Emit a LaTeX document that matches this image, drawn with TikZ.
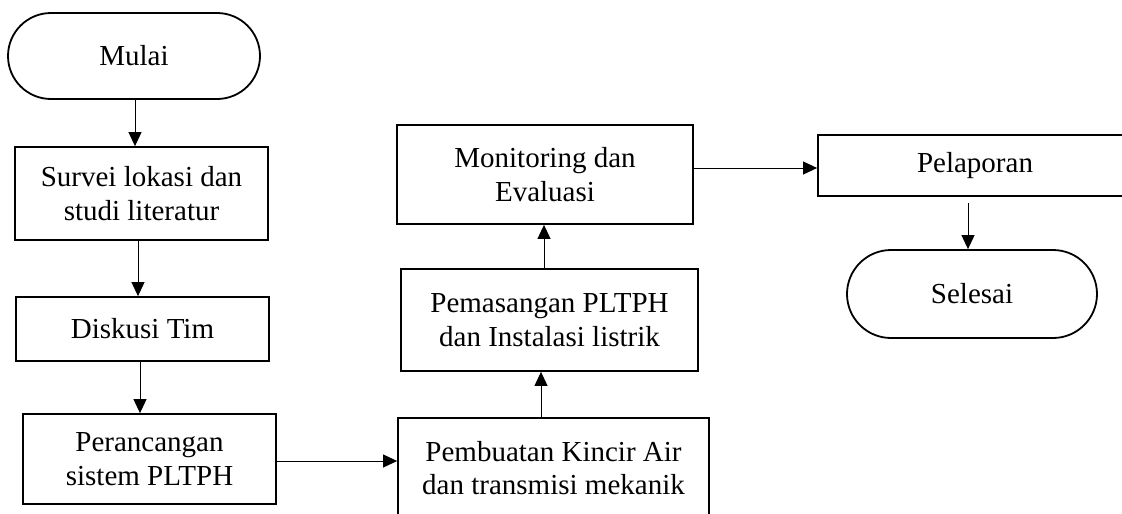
\documentclass[tikz,border=0pt]{standalone}
\usepackage{fontspec}
\setmainfont{Liberation Serif}
\usetikzlibrary{shapes.misc,arrows.meta}
\tikzset{
  boxnode/.style={draw, line width=1.8pt, rectangle, align=center, inner sep=0pt,
    font=\fontsize{29}{33.5}\selectfont},
  termnode/.style={draw, line width=1.8pt, rounded rectangle, rounded rectangle arc length=180,
    align=center, inner sep=0pt, font=\fontsize{29}{33.5}\selectfont},
  arr/.style={line width=1pt, -{Triangle[length=14pt,width=13pt]}}
}
\begin{document}
\begin{tikzpicture}[x=1pt,y=-1pt]
\useasboundingbox (0,0) rectangle (1122,514);
\clip (0,0) rectangle (1122,514);
\node[termnode, minimum width=252pt, minimum height=86pt] (mulai) at (134,56) {Mulai};
\node[boxnode, minimum width=253pt, minimum height=93pt] (survei) at (141.5,193.5) {Survei lokasi dan\\studi literatur};
\node[boxnode, minimum width=253pt, minimum height=64pt] (diskusi) at (142.5,329) {Diskusi Tim};
\node[boxnode, minimum width=253pt, minimum height=90pt] (rancang) at (149.5,459) {Perancangan\\sistem PLTPH};
\node[boxnode, minimum width=311pt, minimum height=100pt, anchor=north] (buat) at (553.5,417) {Pembuatan Kincir Air\\dan transmisi mekanik};
\node[boxnode, minimum width=297pt, minimum height=102pt] (pasang) at (549.5,320) {Pemasangan PLTPH\\dan Instalasi listrik};
\node[boxnode, minimum width=296pt, minimum height=99pt] (monev) at (545,174.5) {Monitoring dan\\Evaluasi};
\node[boxnode, minimum width=314pt, minimum height=61pt] (lapor) at (975,165.5) {Pelaporan};
\node[termnode, minimum width=250pt, minimum height=88pt] (selesai) at (972,294) {Selesai};

\draw[arr] ([xshift=1pt]mulai.south) -- ([xshift=1pt]mulai.south |- survei.north);
\draw[arr] ([xshift=-3.5pt]survei.south) -- ([xshift=-3.5pt]survei.south |- diskusi.north);
\draw[arr] ([xshift=-2.5pt]diskusi.south) -- ([xshift=-2.5pt]diskusi.south |- rancang.north);
\draw[arr] ([yshift=-2pt]rancang.east) -- ([yshift=-2pt]rancang.east -| buat.west);
\draw[arr] ([xshift=-12.5pt]buat.north) -- ([xshift=-12.5pt]buat.north |- pasang.south);
\draw[arr] ([xshift=-5.5pt]pasang.north) -- ([xshift=-5.5pt]pasang.north |- monev.south);
\draw[arr] ([yshift=6.5pt]monev.east) -- ([yshift=6.5pt]monev.east -| lapor.west);
\coordinate (lapout) at ([xshift=-7pt,yshift=-6pt]lapor.south);
\draw[arr] (lapout) -- (lapout |- selesai.north);
\end{tikzpicture}
\end{document}
